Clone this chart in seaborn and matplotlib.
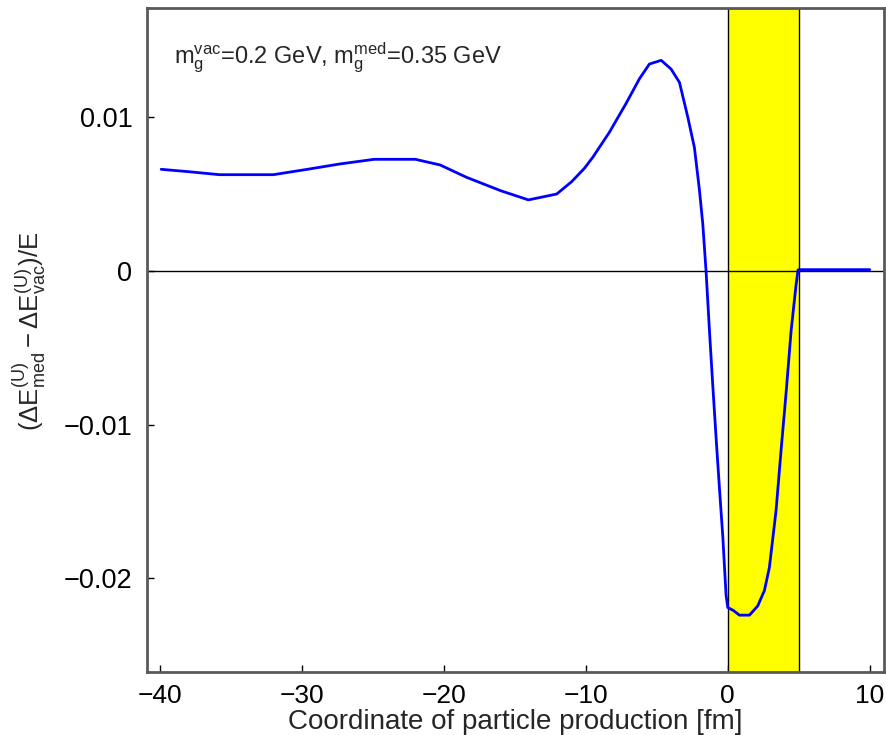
import numpy as np
import pandas as pd
import matplotlib
matplotlib.use("Agg")
import matplotlib.pyplot as plt
import seaborn as sns

# Data
coord = [-39.9, -37.8, -35.8, -32.0, -29.6, -27.3, -24.9, -22.0, -20.25, -18.4,
         -16.0, -14.04, -12.05, -11.0, -10.1, -9.5, -8.33, -7.16, -6.22, -5.52,
         -4.69, -3.99, -3.40, -2.82, -2.35, -2.0, -1.76, -1.53, -1.29, -1.06,
         -0.82, -0.59, -0.35, -0.12, 0.0, 0.4, 0.82, 1.53, 2.11, 2.58,
         2.93, 3.40, 3.76, 4.11, 4.46, 4.81, 4.95, 5.2, 7.5, 10.0]
delta = [0.00661, 0.00644, 0.00626, 0.00626, 0.00661, 0.00696, 0.00726, 0.00726, 0.00689, 0.00609,
         0.00522, 0.00462, 0.00500, 0.00580, 0.00667, 0.00740, 0.00903, 0.01090, 0.01250, 0.01346,
         0.01370, 0.01313, 0.01226, 0.01002, 0.00803, 0.00530, 0.00306, 0.00000, -0.00390, -0.00740,
         -0.01090, -0.01410, -0.01730, -0.02110, -0.02190, -0.02210, -0.02240, -0.02240, -0.02180, -0.02080,
         -0.01930, -0.01560, -0.01160, -0.00790, -0.00390, -0.00090, 0.00007, 0.00008, 0.00008, 0.00008]

band = (0.0, 5.0)
xticks = [-40, -30, -20, -10, 0, 10]
yticks = [-0.02, -0.01, 0.0, 0.01]
ytick_labels = ["\u22120.02", "\u22120.01", "0", "0.01"]
xtick_labels = ["\u221240", "\u221230", "\u221220", "\u221210", "0", "10"]

df = pd.DataFrame({"coord": coord, "delta": delta})

sns.set_style("ticks")
plt.rcParams["font.family"] = ["Liberation Sans", "DejaVu Sans"]
plt.rcParams["mathtext.fontset"] = "custom"
plt.rcParams["mathtext.rm"] = "Liberation Sans"
plt.rcParams["mathtext.it"] = "Liberation Sans"
plt.rcParams["mathtext.bf"] = "Liberation Sans:bold"

fig = plt.figure(figsize=(8.87, 7.35), dpi=100)
ax = fig.add_axes([0.1657, 0.0857, 0.8309, 0.9033])

ax.axvspan(band[0], band[1], facecolor="#ffff00", edgecolor="black", lw=1.0, zorder=1)
ax.axhline(0, color="black", lw=1.0, zorder=2)
sns.lineplot(data=df, x="coord", y="delta", color="#0000ff", lw=2.0, ax=ax, zorder=3)

ax.set_xlim(-40.9, 11.0)
ax.set_ylim(-0.0261, 0.0171)
ax.set_xticks(xticks)
ax.set_xticklabels(xtick_labels)
ax.set_yticks(yticks)
ax.set_yticklabels(ytick_labels)
ax.tick_params(direction="in", length=5, width=1, colors="black")
ax.tick_params(axis="y", labelsize=19.5, pad=10.5)
ax.tick_params(axis="x", labelsize=19, pad=8.5)

for s in ax.spines.values():
    s.set_color("#5a5a5a")
    s.set_linewidth(2.0)

ax.set_xlabel("Coordinate of particle production [fm]", fontsize=20, labelpad=1)
ax.set_ylabel(r"$(\Delta \mathrm{E}^{(U)}_{\mathrm{med}} - \Delta \mathrm{E}^{(U)}_{\mathrm{vac}})/\mathrm{E}$",
              fontsize=18.5)
ax.yaxis.set_label_coords(-0.134, 0.513)

ax.text(0.036, 0.925, r"$\mathrm{m}_{\mathrm{g}}^{\mathrm{vac}}$=0.2 GeV, $\mathrm{m}_{\mathrm{g}}^{\mathrm{med}}$=0.35 GeV",
        transform=ax.transAxes, fontsize=17, va="center", ha="left")

fig.savefig("out.png", dpi=100)
